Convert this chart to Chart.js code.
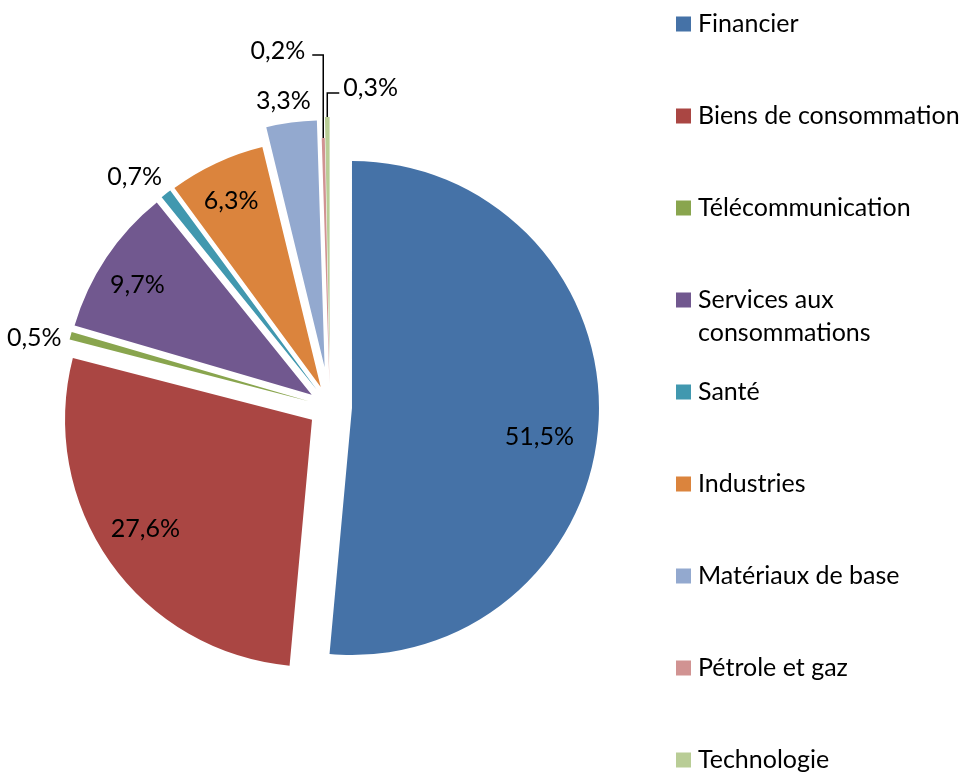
<!DOCTYPE html>
<html>
<head>
<meta charset="utf-8">
<script src="https://cdn.jsdelivr.net/npm/chart.js@4.4.1/dist/chart.umd.min.js"></script>
<style>
  html, body { margin: 0; padding: 0; background: #fff; }
  #wrap { width: 960px; height: 774px; position: relative; }
</style>
</head>
<body>
<div id="wrap"><canvas id="pie"></canvas></div>
<script>
const sectors = [
  "Financier",
  "Biens de consommation",
  "Télécommunication",
  "Services aux consommations",
  "Santé",
  "Industries",
  "Matériaux de base",
  "Pétrole et gaz",
  "Technologie",
];
const shares = [51.5, 27.6, 0.5, 9.7, 0.7, 6.3, 3.3, 0.2, 0.3];
const shareLabels = shares.map((v) => v.toFixed(1).replace(".", ",") + "%");

const colors = [
  "#4572A7", "#AA4643", "#89A54E", "#71588F", "#4198AF",
  "#DB843D", "#93A9CF", "#D19392", "#B9CD96",
];

// how far each slice is pulled out of the pie (px)
const explode = [22, 22, 22, 22, 22, 22, 40, 22, 43];

// where each percentage goes: inside the slice, or next to its outer edge
const labelPlace = [
  { inside: 0.78, dx: -5, dy: 20 },
  { inside: 0.8, dx: -5, dy: -5 },
  { dx: -9, dy: 2, align: "right" },
  { inside: 0.8, dx: -10, dy: 0 },
  { dx: -4, dy: -17, align: "right" },
  { inside: 0.8, dx: -6, dy: -7 },
  { dx: -8, dy: -22, align: "center" },
  { dx: -18, dy: -87, align: "right", leader: [[0, 0], [0, -83], [-11, -83]] },
  { dx: 16, dy: -29, align: "left", leader: [[0, 0], [0, -24], [12, -24]] },
];

const FONT = "25px Lato";

function arcGeometry(arc, i) {
  const mid = (arc.startAngle + arc.endAngle) / 2;
  const cos = Math.cos(mid);
  const sin = Math.sin(mid);
  const ax = arc.x + cos * explode[i];
  const ay = arc.y + sin * explode[i];
  return { cos, sin, ax, ay, r: arc.outerRadius };
}

const explodePlugin = {
  id: "explode",
  beforeDatasetDraw(chart, args) {
    const ctx = chart.ctx;
    args.meta.data.forEach((arc, i) => {
      const mid = (arc.startAngle + arc.endAngle) / 2;
      ctx.save();
      ctx.translate(Math.cos(mid) * explode[i], Math.sin(mid) * explode[i]);
      arc.draw(ctx);
      ctx.restore();
    });
    return false;
  },
};

const labelPlugin = {
  id: "sliceLabels",
  afterDatasetsDraw(chart) {
    const ctx = chart.ctx;
    const meta = chart.getDatasetMeta(0);
    ctx.save();
    ctx.font = FONT;
    ctx.fillStyle = "#000";
    ctx.strokeStyle = "#000";
    ctx.lineWidth = 1.5;
    ctx.textBaseline = "middle";
    meta.data.forEach((arc, i) => {
      const g = arcGeometry(arc, i);
      const p = labelPlace[i];
      if (p.inside) {
        ctx.textAlign = "center";
        ctx.fillText(
          shareLabels[i],
          g.ax + g.cos * g.r * p.inside + p.dx,
          g.ay + g.sin * g.r * p.inside + p.dy
        );
        return;
      }
      const ox = g.ax + g.cos * g.r;
      const oy = g.ay + g.sin * g.r;
      if (p.leader) {
        ctx.beginPath();
        p.leader.forEach(([lx, ly], k) => {
          if (k === 0) ctx.moveTo(ox + lx, oy + ly);
          else ctx.lineTo(ox + lx, oy + ly);
        });
        ctx.stroke();
      }
      ctx.textAlign = p.align;
      ctx.fillText(shareLabels[i], ox + p.dx, oy + p.dy);
    });
    ctx.restore();
  },
};

function wrapText(ctx, text, maxWidth) {
  const words = text.split(" ");
  const lines = [];
  let line = "";
  for (const w of words) {
    const test = line ? line + " " + w : w;
    if (line && ctx.measureText(test).width > maxWidth) {
      lines.push(line);
      line = w;
    } else {
      line = test;
    }
  }
  lines.push(line);
  return lines;
}

const legendPlugin = {
  id: "sideLegend",
  afterDraw(chart) {
    const ctx = chart.ctx;
    const boxX = 676;
    const textX = 698;
    const box = 15;
    ctx.save();
    ctx.font = FONT;
    ctx.textAlign = "left";
    ctx.textBaseline = "alphabetic";
    sectors.forEach((name, i) => {
      const cy = 24 + 92 * i;
      ctx.fillStyle = colors[i];
      ctx.fillRect(boxX, cy - box / 2, box, box);
      ctx.fillStyle = "#000";
      const lines = wrapText(ctx, name, 270);
      lines.forEach((ln, k) => ctx.fillText(ln, textX, cy + 8 + k * 33));
    });
    ctx.restore();
  },
};

new Chart(document.getElementById("pie"), {
  type: "pie",
  data: {
    labels: sectors,
    datasets: [
      {
        data: shares,
        backgroundColor: colors,
        borderWidth: 0,
        radius: 247,
      },
    ],
  },
  options: {
    responsive: true,
    maintainAspectRatio: false,
    animation: false,
    events: [],
    layout: { padding: { left: 0, right: 300, top: 40, bottom: 0 } },
    plugins: {
      legend: { display: false },
      tooltip: { enabled: false },
    },
  },
  plugins: [explodePlugin, labelPlugin, legendPlugin],
});
</script>
</body>
</html>
